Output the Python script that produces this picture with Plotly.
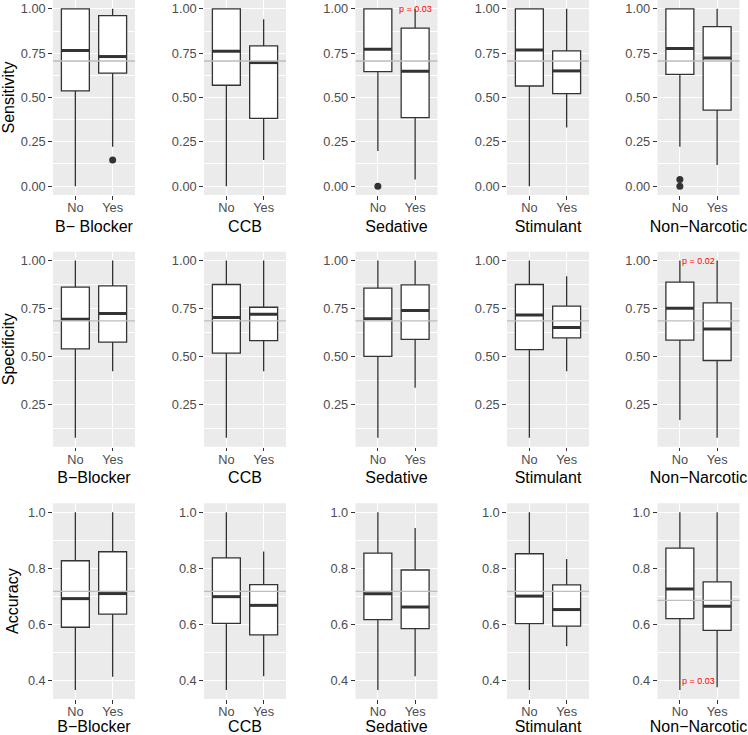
import plotly.graph_objects as go

# ---------------- data ----------------
categories = ["No", "Yes"]
drugs_row1 = ["B\u2212 Blocker", "CCB", "Sedative", "Stimulant", "Non\u2212Narcotic"]
drugs_row23 = ["B\u2212Blocker", "CCB", "Sedative", "Stimulant", "Non\u2212Narcotic"]
metrics = ["Sensitivity", "Specificity", "Accuracy"]

# Sensitivity (per drug: [No, Yes])
sens_lo = [[0.000, 0.222], [0.000, 0.147], [0.198, 0.038], [0.000, 0.331], [0.222, 0.119]]
sens_q1 = [[0.537, 0.637], [0.569, 0.382], [0.646, 0.386], [0.565, 0.522], [0.631, 0.429]]
sens_med = [[0.765, 0.731], [0.761, 0.697], [0.772, 0.648], [0.768, 0.650], [0.776, 0.723]]
sens_q3 = [[1.000, 0.962], [1.000, 0.791], [1.000, 0.891], [1.000, 0.763], [1.000, 0.900]]
sens_hi = [[1.000, 1.000], [1.000, 0.942], [1.000, 1.000], [1.000, 1.000], [1.000, 1.000]]
sens_out = [[[], [0.147]], [[], []], [[0.000], []], [[], []], [[0.000, 0.038], []]]
sens_mean = [0.706, 0.706, 0.706, 0.706, 0.706]

# Specificity
spec_lo = [[0.074, 0.422], [0.074, 0.422], [0.074, 0.335], [0.074, 0.422], [0.167, 0.074]]
spec_q1 = [[0.539, 0.574], [0.516, 0.582], [0.499, 0.588], [0.535, 0.596], [0.584, 0.478]]
spec_med = [[0.694, 0.723], [0.703, 0.720], [0.696, 0.739], [0.715, 0.650], [0.751, 0.642]]
spec_q3 = [[0.861, 0.868], [0.875, 0.756], [0.856, 0.873], [0.875, 0.762], [0.887, 0.779]]
spec_hi = [[1.000, 1.000], [1.000, 1.000], [1.000, 1.000], [1.000, 0.918], [1.000, 1.000]]
spec_out = [[[], []], [[], []], [[], []], [[], []], [[], []]]
spec_mean = [0.685, 0.685, 0.685, 0.685, 0.685]

# Accuracy
acc_lo = [[0.366, 0.414], [0.366, 0.415], [0.366, 0.415], [0.366, 0.522], [0.366, 0.376]]
acc_q1 = [[0.590, 0.637], [0.604, 0.563], [0.617, 0.585], [0.603, 0.594], [0.621, 0.579]]
acc_med = [[0.692, 0.710], [0.699, 0.668], [0.709, 0.662], [0.701, 0.653], [0.726, 0.665]]
acc_q3 = [[0.827, 0.859], [0.837, 0.742], [0.854, 0.794], [0.852, 0.741], [0.872, 0.752]]
acc_hi = [[1.000, 1.000], [1.000, 0.860], [1.000, 0.944], [1.000, 0.833], [1.000, 1.000]]
acc_out = [[[], []], [[], []], [[], []], [[], []], [[], []]]
acc_mean = [0.718, 0.718, 0.718, 0.718, 0.686]

# p-value labels: (row, col, x position, y value, text)
p_labels = [(0, 2, 2.0, 1.00, "p = 0.03"),
            (1, 4, 1.5, 1.00, "p = 0.02"),
            (2, 4, 1.5, 0.40, "p = 0.03")]

y_dticks = [0.25, 0.25, 0.2]
y_formats = [".2f", ".2f", ".1f"]

# ---------------- layout geometry ----------------
W, H = 748, 735
col_left = [53, 204, 355.5, 507, 657.5]
panel_w = 82
row_top = [0, 251.7, 503.3]
panel_h = [195, 195, 195.7]

BOX_W = 0.75
INK = "#333333"
FONT = "Liberation Sans, Arial, Helvetica, sans-serif"

rows_data = [
    (sens_lo, sens_q1, sens_med, sens_q3, sens_hi, sens_out, sens_mean),
    (spec_lo, spec_q1, spec_med, spec_q3, spec_hi, spec_out, spec_mean),
    (acc_lo, acc_q1, acc_med, acc_q3, acc_hi, acc_out, acc_mean),
]

fig = go.Figure()
layout = dict(
    width=W, height=H, margin=dict(l=0, r=0, t=0, b=0),
    paper_bgcolor="white", plot_bgcolor="white",
    showlegend=False, template="none",
    font=dict(family=FONT, color="#4D4D4D"),
    shapes=[], annotations=[],
)

positions = [1, 2]
for r in range(3):
    lo, q1, med, q3, hi, out, mean = rows_data[r]
    all_vals = [v for d in lo for v in d] + [v for d in hi for v in d] + \
               [v for d in out for g in d for v in g]
    vmin, vmax = min(all_vals), max(all_vals)
    pad = (vmax - vmin) * 0.05
    yr = [vmin - pad, vmax + pad]
    for c in range(5):
        idx = r * 5 + c + 1
        sx = "" if idx == 1 else str(idx)
        xa, ya = "x" + sx, "y" + sx
        xd = [col_left[c] / W, (col_left[c] + panel_w) / W]
        yd = [(H - row_top[r] - panel_h[r]) / H, (H - row_top[r]) / H]
        # panel background
        layout["shapes"].append(dict(type="rect", xref=xa + " domain", yref=ya + " domain",
                                     x0=0, x1=1, y0=0, y1=1, fillcolor="#EBEBEB",
                                     line=dict(width=0), layer="below"))
        xtitle = drugs_row1[c] if r == 0 else drugs_row23[c]
        layout["xaxis" + sx] = dict(
            domain=xd, anchor=ya, range=[0.4, 2.6], tickvals=positions, ticktext=categories,
            showgrid=True, gridcolor="white", gridwidth=1.1, zeroline=False,
            ticks="outside", ticklen=3.7, tickwidth=1.1, tickcolor=INK,
            ticklabelstandoff=-3,
            tickfont=dict(size=12.8, color="#4D4D4D", family=FONT),
            title=dict(text=xtitle, font=dict(size=16, color="black", family=FONT), standoff=6),
            showline=False, fixedrange=True, automargin=False,
        )
        ytitle = dict(text=metrics[r], font=dict(size=16, color="black", family=FONT), standoff=5) if c == 0 else None
        ya_dict = dict(
            domain=yd, anchor=xa, range=yr, tick0=0, dtick=y_dticks[r], tickformat=y_formats[r],
            showgrid=True, gridcolor="white", gridwidth=1.1, zeroline=False,
            minor=dict(dtick=y_dticks[r] / 2, tick0=0, showgrid=True, gridcolor="white", gridwidth=0.55),
            ticks="outside", ticklen=3.7, tickwidth=1.1, tickcolor=INK,
            tickfont=dict(size=12.8, color="#4D4D4D", family=FONT),
            showline=False, fixedrange=True, automargin=False,
        )
        if ytitle:
            ya_dict["title"] = ytitle
        layout["yaxis" + sx] = ya_dict

        for k, pos in enumerate(positions):
            fig.add_trace(go.Box(
                x=[pos], q1=[q1[c][k]], median=[med[c][k]], q3=[q3[c][k]],
                lowerfence=[lo[c][k]], upperfence=[hi[c][k]],
                width=BOX_W, fillcolor="white", whiskerwidth=0,
                line=dict(color=INK, width=1.3), boxpoints=False,
                xaxis=xa, yaxis=ya, hoverinfo="skip",
            ))
            # thicker median bar (ggplot style)
            fig.add_trace(go.Scatter(
                x=[pos - BOX_W / 2, pos + BOX_W / 2], y=[med[c][k], med[c][k]],
                mode="lines", line=dict(color=INK, width=3),
                xaxis=xa, yaxis=ya, hoverinfo="skip",
            ))
            if out[c][k]:
                fig.add_trace(go.Scatter(
                    x=[pos] * len(out[c][k]), y=out[c][k], mode="markers",
                    marker=dict(color=INK, size=7),
                    xaxis=xa, yaxis=ya, hoverinfo="skip",
                ))
        # overall mean reference line
        layout["shapes"].append(dict(type="line", xref=xa + " domain", yref=ya,
                                     x0=0, x1=1, y0=mean[c], y1=mean[c],
                                     line=dict(color="#BDBDBD", width=1.3), layer="above"))

for (r, c, px, py, txt) in p_labels:
    idx = r * 5 + c + 1
    sx = "" if idx == 1 else str(idx)
    layout["annotations"].append(dict(
        xref="x" + sx, yref="y" + sx, x=px, y=py, text=txt, showarrow=False,
        font=dict(size=9, color="red", family=FONT), xanchor="center", yanchor="middle",
    ))

fig.update_layout(**layout)
fig.write_html("out.html", config={"displayModeBar": False},
               post_script="document.body.style.margin='0';document.body.style.overflow='hidden';")
